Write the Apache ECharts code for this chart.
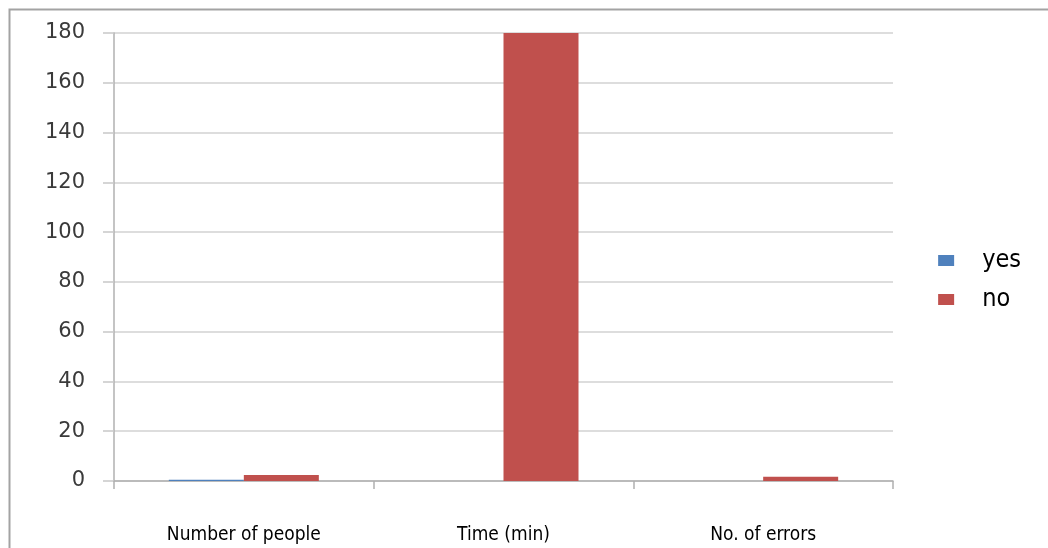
<!DOCTYPE html>
<html>
<head>
<meta charset="utf-8">
<script src="https://cdn.jsdelivr.net/npm/echarts@6/dist/echarts.min.js"></script>
<style>
  html, body { margin: 0; padding: 0; background: #fff; }
  #chart { width: 1048px; height: 548px; }
</style>
</head>
<body>
<div id="chart"></div>
<script>
// Survey results by measure, split into "yes" and "no" groups
const categories = ['Number of people', 'Time (min)', 'No. of errors'];
const yesValues = [0.5, 0, 0];
const noValues = [2.4, 180, 1.7];
const yTicks = { min: 0, max: 180, interval: 20 };

const narrowFont = '"Liberation Sans Narrow", "DejaVu Sans Condensed", sans-serif';

const chart = echarts.init(document.getElementById('chart'));
chart.setOption({
  backgroundColor: '#ffffff',
  animation: false,
  graphic: [{
    type: 'rect',
    shape: { x: 9.5, y: 9.5, width: 1100, height: 600 },
    style: { fill: 'none', stroke: '#a3a3a3', lineWidth: 2 },
    silent: true
  }],
  grid: { left: 114, right: 155, top: 33, bottom: 67 },
  legend: {
    orient: 'vertical',
    right: 22,
    top: 243,
    itemWidth: 16,
    itemHeight: 11,
    itemGap: 14,
    icon: 'rect',
    textStyle: {
      fontFamily: narrowFont,
      fontSize: 25,
      color: '#000',
      padding: [0, 0, 0, 23]
    },
    data: ['yes', 'no']
  },
  xAxis: {
    type: 'category',
    data: categories,
    axisLine: { lineStyle: { color: '#b0b0b0', width: 1.5 } },
    axisTick: { show: true, length: 8, lineStyle: { color: '#b0b0b0', width: 1.5 } },
    axisLabel: {
      margin: 45,
      fontFamily: narrowFont,
      fontSize: 19,
      color: '#000'
    }
  },
  yAxis: {
    type: 'value',
    min: yTicks.min,
    max: yTicks.max,
    interval: yTicks.interval,
    axisLine: { show: true, lineStyle: { color: '#b0b0b0', width: 1.5 } },
    axisTick: { show: true, length: 11, lineStyle: { color: '#c8c8c8', width: 1.5 } },
    splitLine: { lineStyle: { color: '#d2d2d2', width: 1.5 } },
    axisLabel: {
      margin: 29,
      fontFamily: '"DejaVu Sans", sans-serif',
      fontSize: 21,
      color: '#3a3a3a'
    }
  },
  series: [
    {
      name: 'yes',
      type: 'bar',
      data: yesValues,
      barWidth: 75,
      barGap: '0%',
      itemStyle: { color: '#4f81bd' }
    },
    {
      name: 'no',
      type: 'bar',
      data: noValues,
      barWidth: 75,
      barGap: '0%',
      itemStyle: { color: '#c0504d' }
    }
  ]
});
</script>
</body>
</html>
